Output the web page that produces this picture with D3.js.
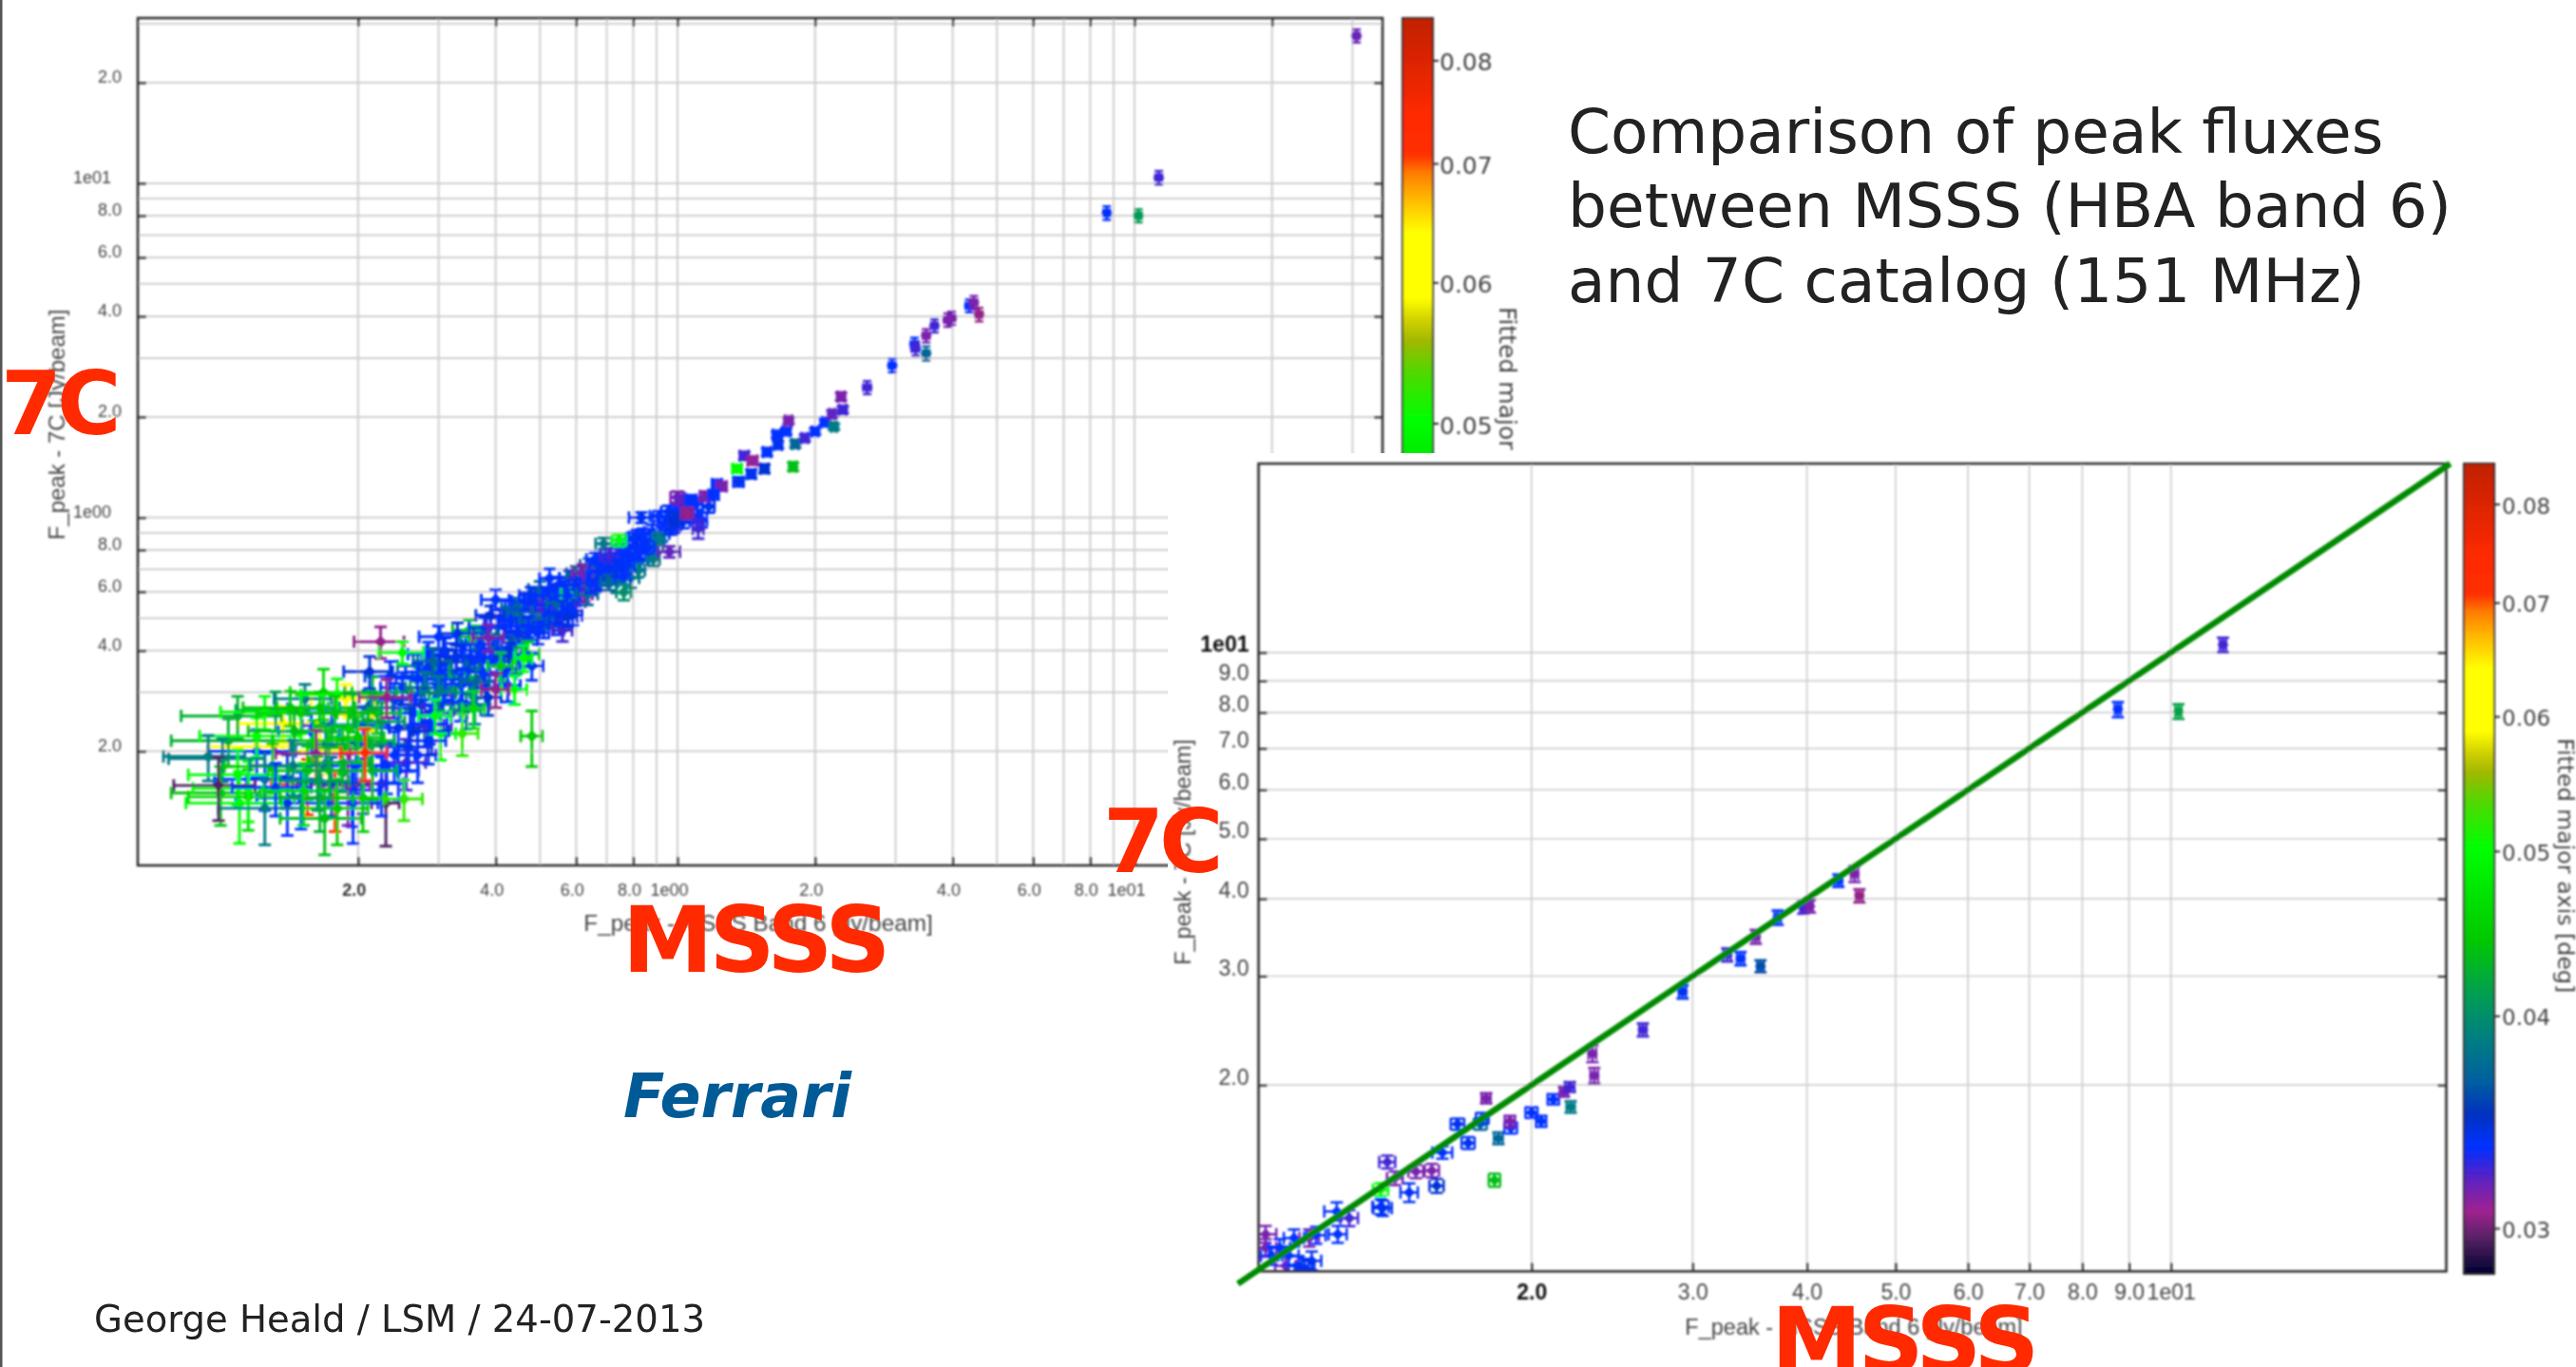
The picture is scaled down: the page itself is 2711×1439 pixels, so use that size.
<!DOCTYPE html>
<html><head><meta charset="utf-8">
<script src="https://cdn.jsdelivr.net/npm/d3@7/dist/d3.min.js"></script>
<style>html,body{margin:0;padding:0;background:#fff;overflow:hidden}svg{display:block}</style>
</head><body>
<svg id="c" width="2711" height="1439"></svg>
<script>
// --- values -----------------------------------------------------------
// rows: [MSSS Jy, 7C Jy, fitted major axis deg, x error Jy, y error Jy]
const yellowSources = [
 [.137,.242,.061,.028,.030],[.120,.206,.062,.026,.026],[.188,.287,.062,.030,.030],[.165,.200,.061,.028,.030],
 [.215,.260,.062,.028,.030],[.155,.159,.073,.026,.030],[.178,.145,.073,.024,.030]
];
const faintSources = [
 [.168,.268,.034,.028,.030],[.175,.239,.0325,.024,.032],[.158,.229,.0335,.024,.032],[.230,.140,.0295,.016,.036],
 [.240,.285,.0338,.028,.034],[.250,.310,.0338,.026,.034],[.260,.300,.041,.026,.036],
 [.270,.330,.0335,.028,.036],[.280,.310,.0385,.026,.034],[.235,.335,.0335,.028,.036],[.245,.235,.0335,.026,.034],
 [.265,.260,.0335,.026,.034],[.275,.275,.0345,.028,.034],[.225,.210,.037,.028,.034],
 [.240,.195,.0335,.026,.034],[.260,.235,.0345,.026,.034],[.280,.240,.0325,.028,.034],[.295,.285,.0335,.028,.034],
 [.300,.300,.0385,.026,.034],[.225,.160,.0335,.026,.032],[.245,.175,.0335,.026,.032],[.255,.185,.0325,.026,.032],
 [.270,.195,.0335,.026,.034],[.285,.215,.0338,.026,.032],[.290,.230,.0345,.026,.034],[.205,.160,.0325,.026,.030],
 [.205,.240,.0335,.028,.032],[.210,.270,.037,.028,.034],[.194,.153,.0335,.028,.034],[.258,.206,.0338,.026,.032],
 [.231,.181,.0335,.026,.032],[.198,.181,.0335,.030,.032],[.190,.158,.0315,.022,.038],[.287,.242,.0335,.026,.032],
 [.195,.140,.0335,.026,.034],[.140,.140,.0335,.032,.028],[.140,.165,.0345,.026,.030],[.125,.165,.0335,.028,.032],
 [.120,.200,.0335,.026,.032],[.150,.145,.0335,.030,.028],[.175,.160,.036,.028,.032],[.170,.210,.039,.028,.032],
 [.109,.255,.0425,.027,.037],[.132,.265,.0415,.024,.036],[.104,.215,.0425,.026,.035],[.120,.222,.050,.030,.030],
 [.094,.193,.0385,.019,.030],[.101,.190,.0385,.024,.028],[.109,.170,.050,.024,.032],[.100,.150,.044,.022,.030],
 [.110,.140,.050,.026,.034],[.115,.146,.046,.030,.030],[.153,.287,.0385,.022,.030],[.168,.300,.046,.026,.052],
 [.125,.262,.050,.025,.030],[.142,.270,.0445,.030,.032],[.150,.260,.046,.030,.034],[.165,.270,.0445,.032,.030],
 [.180,.295,.050,.030,.034],[.178,.260,.044,.033,.032],[.195,.262,.0435,.030,.034],[.220,.260,.0435,.028,.034],
 [.215,.300,.0425,.028,.034],[.190,.235,.045,.030,.034],[.225,.245,.041,.028,.034],[.210,.215,.0425,.030,.034],
 [.145,.230,.0435,.030,.032],[.160,.215,.045,.030,.032],[.185,.205,.0435,.030,.034],[.185,.185,.0425,.028,.034],
 [.215,.175,.0425,.028,.032],[.155,.175,.0445,.028,.032],[.130,.180,.0445,.028,.030],[.115,.155,.050,.028,.032],
 [.165,.145,.0425,.030,.030],[.180,.135,.0445,.030,.030],[.205,.145,.045,.026,.030],[.125,.135,.0385,.026,.030],
 [.099,.158,.0295,.020,.034],[.162,.197,.0305,.030,.034],[.200,.220,.0445,.028,.034],
 [.144,.181,.0385,.028,.034],[.132,.156,.0338,.026,.028],[.152,.152,.046,.028,.032],[.169,.126,.0435,.034,.028],
 [.252,.144,.052,.0245,.020],[.173,.175,.0425,.032,.030],[.163,.163,.041,.028,.030],
 [.295,.255,.050,.024,.030],[.212,.346,.0345,.026,.038],[.231,.290,.0305,.030,.038],[.250,.395,.050,.028,.030],
 [.207,.198,.073,.024,.035]
];
const midSources = [
 [.270,.360,.0385,.026,.034],[.285,.390,.0335,.028,.034],[.300,.350,.0338,.028,.034],[.295,.330,.0425,.028,.034],
 [.310,.400,.0335,.028,.036],[.315,.370,.0345,.028,.034],[.320,.340,.0335,.028,.034],[.310,.310,.0385,.026,.034],
 [.325,.300,.0435,.026,.034],[.335,.420,.0338,.028,.034],[.340,.385,.0335,.028,.034],[.345,.350,.0425,.028,.034],
 [.350,.330,.037,.026,.034],[.335,.280,.0335,.028,.034],[.355,.300,.0425,.028,.034],[.320,.260,.0325,.026,.034],
 [.345,.265,.0385,.026,.032],[.360,.440,.0435,.028,.034],[.365,.400,.0335,.028,.034],[.370,.370,.037,.026,.034],
 [.375,.345,.0335,.028,.034],[.380,.310,.0338,.028,.034],[.360,.275,.0385,.028,.034],[.385,.290,.0345,.026,.034],
 [.390,.440,.0415,.028,.034],[.350,.460,.0435,.028,.034],[.330,.450,.0345,.028,.034],[.300,.440,.0335,.028,.034],
 [.395,.400,.0335,.028,.034],[.410,.370,.037,.026,.034],[.415,.340,.0335,.028,.034],[.425,.315,.0338,.028,.034],
 [.430,.440,.0345,.028,.034],[.440,.410,.0335,.028,.034],[.445,.375,.0385,.028,.034],[.410,.500,.0325,.028,.034],
 [.420,.530,.0335,.028,.034],[.390,.510,.0345,.028,.034],[.440,.540,.037,.028,.034],[.455,.500,.0335,.028,.034],
 [.460,.460,.0325,.028,.034],[.465,.430,.037,.028,.034],[.470,.390,.0455,.028,.034],[.480,.360,.0338,.028,.034],
 [.480,.530,.0338,.028,.034],[.490,.490,.037,.028,.034],[.500,.560,.0335,.028,.034],[.505,.530,.0325,.028,.034],
 [.510,.470,.0338,.028,.034],[.525,.500,.037,.028,.034],[.530,.560,.0315,.028,.034],[.540,.520,.0335,.028,.034],
 [.550,.480,.0338,.028,.034],[.560,.460,.0325,.028,.034],[.555,.580,.0338,.028,.034],[.570,.540,.0335,.028,.034],
 [.580,.600,.0315,.028,.034],[.590,.510,.0335,.028,.034],[.600,.560,.0325,.028,.034],[.500,.610,.037,.028,.034],
 [.550,.630,.0335,.028,.034],[.580,.660,.0338,.028,.034],[.610,.640,.0315,.028,.034],[.630,.620,.0335,.028,.034],
 [.640,.720,.037,.028,.034],[.660,.750,.0335,.028,.034],[.620,.690,.0315,.028,.034],[.650,.620,.0335,.028,.034],
 [.680,.690,.0338,.028,.034],[.600,.680,.037,.028,.034],[.700,.660,.036,.028,.034],
 [.282,.345,.0335,.028,.036],[.292,.372,.037,.028,.034],[.305,.328,.0338,.028,.034],[.328,.382,.0345,.026,.034],
 [.338,.318,.0335,.028,.036],[.352,.382,.0338,.028,.034],[.362,.322,.037,.026,.034],[.372,.418,.0335,.028,.034],
 [.378,.468,.0338,.028,.034],[.388,.372,.0335,.028,.034],[.402,.442,.037,.026,.034],[.405,.398,.0338,.028,.034],
 [.418,.472,.0335,.028,.034],[.428,.388,.0345,.028,.034],[.432,.492,.0335,.028,.034],[.448,.452,.0338,.028,.034],
 [.452,.522,.037,.028,.034],[.462,.562,.0335,.028,.034],[.472,.472,.0335,.028,.034],[.478,.585,.0338,.028,.034],
 [.495,.452,.0335,.028,.034],[.515,.585,.0335,.028,.034],[.518,.545,.0338,.028,.034],[.535,.598,.0335,.028,.034],
 [.545,.555,.037,.028,.034],[.565,.612,.0338,.028,.034],[.575,.505,.0345,.028,.034],[.585,.562,.0338,.028,.034],
 [.595,.622,.0335,.028,.034],[.612,.595,.0345,.028,.034],[.625,.655,.0338,.028,.034],[.642,.668,.0335,.028,.034],
 [.655,.695,.037,.028,.034],[.672,.728,.0335,.028,.034],[.688,.742,.0338,.028,.034],[.695,.705,.0335,.028,.034],
 [.410,.360,.0445,.026,.034],[.358,.268,.046,.020,.034],[.338,.226,.052,.028,.032],[.303,.226,.050,.024,.038],
 [.480,.222,.0445,.026,.042],[.440,.306,.050,.028,.030],[.400,.306,.0305,.028,.036],[.460,.380,.050,.020,.034],
 [.224,.425,.0305,.028,.046],[.386,.437,.0315,.030,.040],[.400,.568,.0335,.028,.040],[.525,.658,.0335,.026,.044],
 [.625,.590,.0315,.026,.030],[.580,.590,.046,.024,.024],[.620,.680,.0315,.030,.034]
];
const blockSources = [
 [.560,.520,.0338,.034,.044],[.575,.585,.0335,.034,.046],[.600,.610,.0338,.034,.044],[.635,.590,.037,.034,.042],
 [.645,.640,.0335,.034,.044],[.668,.650,.0338,.034,.044],[.675,.690,.0335,.034,.046],[.695,.760,.0335,.034,.046],
 [.705,.685,.0338,.034,.044],[.725,.735,.0335,.034,.046],[.735,.640,.037,.034,.044],[.748,.785,.0335,.034,.044],
 [.752,.700,.0338,.034,.046],[.770,.820,.0335,.034,.044],[.785,.760,.0335,.034,.046],[.790,.660,.0385,.034,.044],
 [.805,.820,.0338,.034,.046],[.815,.875,.0335,.034,.044],[.830,.745,.0335,.034,.046],[.850,.855,.0338,.034,.046],
 [.865,.790,.0335,.034,.044],[.880,.905,.0335,.034,.046],[.895,.830,.037,.034,.046],[.925,.895,.0335,.034,.046],
 [.940,.960,.0335,.034,.046],[.955,1.04,.0338,.034,.044],[.985,.950,.0325,.034,.046],[1.00,1.06,.0335,.034,.046],
 [1.03,.975,.0335,.034,.046],[1.05,1.09,.0325,.034,.046],[1.08,1.01,.0338,.034,.046],[1.10,1.10,.0335,.034,.046],
 [1.17,1.08,.0338,.034,.046],[1.00,1.15,.0315,.034,.046]
];
const brightSources = [
 [.710,.640,.037,.030,.034],[.690,.835,.0385,.028,.034],[.710,.770,.0325,.030,.036],[.760,.750,.0335,.030,.036],
 [.760,.665,.0335,.030,.036],[.763,.598,.040,.028,.032],[.820,.785,.0335,.030,.036],[.820,.695,.0385,.028,.032],
 [.885,.750,.0385,.028,.034],[.800,.865,.0338,.030,.036],[.840,.890,.0335,.030,.036],[.910,.865,.0385,.028,.036],
 [.745,.855,.050,.026,.034],[.775,.715,.0335,.030,.036],[.735,.705,.0338,.030,.036],[.860,.815,.0335,.030,.036],
 [.960,.790,.032,.052,.030],[.833,1.00,.0338,.050,.036],[.910,1.01,.0335,.040,.036],
 [.970,.925,.0338,.030,.036],[.995,.990,.0345,.032,.040],[1.02,1.13,.032,.030,.040],[1.07,1.13,.0335,.030,.036],
 [1.15,1.16,.0315,.030,.036],[1.05,1.03,.0305,.030,.036],[1.13,.985,.0335,.030,.050],[1.11,.925,.0325,.030,.060],
 [1.22,1.26,.0335,.030,.036],[1.25,1.24,.0315,.030,.036],[1.20,1.17,.0335,.030,.036],[1.36,1.28,.0338,.034,.040],
 [1.40,1.53,.0325,.030,.040],[1.35,1.40,.050,.030,.034],[1.46,1.48,.031,.034,.040],[1.45,1.35,.0338,.030,.040],
 [1.55,1.40,.0345,.030,.040],[1.57,1.57,.0335,.030,.040],[1.79,1.42,.0435,.030,.040],[1.65,1.77,.0335,.030,.040],
 [1.66,1.65,.0338,.030,.040],[1.73,1.81,.0335,.030,.040],[1.81,1.66,.037,.030,.040],[1.90,1.73,.0325,.030,.040],
 [2.00,1.81,.0335,.030,.040],[2.10,1.93,.0335,.030,.040],[2.20,1.87,.0385,.030,.040],[1.75,1.95,.0315,.030,.040],
 [2.18,2.04,.032,.030,.050],[2.28,2.30,.0315,.040,.060],[2.30,2.10,.0325,.040,.050]
];
const peakSources = [
 [2.60,2.45,.0325,.050,.110],
 [2.95,2.85,.0335,.050,.130],[3.30,3.30,.0335,.060,.150],[3.32,3.20,.0325,.060,.150],[3.50,3.10,.037,.060,.150],
 [3.50,3.50,.0315,.060,.160],[3.65,3.75,.0325,.060,.170],[3.90,3.90,.0315,.070,.180],[3.98,3.95,.0315,.070,.180],
 [4.35,4.30,.0335,.080,.190],[4.45,4.40,.0315,.080,.200],[4.57,4.05,.0305,.080,.190],[8.70,8.15,.0335,.150,.380],
 [10.2,8.00,.041,.170,.360],[11.3,10.4,.0325,.190,.480],[30.6,27.6,.0318,.500,1.25]
];
// matched sources in the second panel: [MSSS Jy, 7C Jy, fitted major axis deg, x error Jy, y error Jy]
const matchedSources = [
 [1.024,1.148,.0315,.028,.036],[1.024,1.092,.0315,.028,.036],[1.061,1.092,.0335,.028,.036],[1.100,1.132,.0335,.028,.036],
 [1.143,1.132,.0315,.028,.036],[1.163,1.144,.0335,.028,.036],[1.077,1.021,.0315,.028,.036],[1.113,1.021,.0338,.028,.036],
 [1.130,1.011,.0338,.028,.036],[1.040,1.060,.0335,.028,.036],[1.085,1.060,.0335,.028,.036],[1.150,1.040,.0338,.028,.036],
 [1.225,1.250,.0335,.038,.042],[1.264,1.219,.0325,.028,.036],[1.228,1.148,.0335,.028,.036],
 [1.368,1.272,.0335,.028,.036],[1.368,1.356,.050,.026,.032],[1.391,1.502,.0325,.028,.036],[1.418,1.414,.0315,.028,.036],
 [1.470,1.341,.0338,.032,.046],[1.495,1.450,.0315,.028,.036],[1.375,1.265,.0338,.032,.036],[1.556,1.455,.0315,.028,.036],
 [1.575,1.375,.0345,.028,.036],[1.598,1.556,.0335,.040,.036],[1.660,1.730,.0338,.028,.036],[1.705,1.612,.0338,.028,.036],
 [1.758,1.730,.037,.028,.036],[1.767,1.767,.0338,.028,.036],[1.784,1.904,.0315,.020,.036],[1.840,1.641,.037,.020,.036],
 [1.822,1.404,.0435,.026,.034],[1.898,1.706,.0335,.030,.036],[1.894,1.748,.0315,.024,.036],[2.000,1.805,.0335,.030,.036],
 [2.049,1.748,.0335,.026,.036],[2.113,1.897,.0335,.030,.036],[2.170,1.951,.0315,.022,.036],[2.202,1.986,.0325,.026,.036],
 [2.207,1.844,.0385,.022,.040],[2.331,2.248,.0315,.022,.070],[2.342,2.072,.0315,.022,.060],[2.647,2.456,.0325,.024,.060],
 [2.925,2.829,.0338,.026,.070],[3.273,3.247,.0325,.030,.080],[3.385,3.202,.0335,.030,.080],[3.559,3.112,.036,.030,.070],
 [3.517,3.473,.0315,.030,.090],[3.716,3.730,.0335,.030,.100],[3.963,3.874,.0325,.030,.090],[4.030,3.890,.0315,.030,.090],
 [4.330,4.280,.0335,.040,.100],[4.510,4.387,.0315,.040,.130],[4.565,4.045,.0305,.040,.100],[8.750,8.090,.0335,.070,.230],
 [10.19,8.030,.0415,.080,.220],[11.40,10.29,.0325,.090,.280]
];
const unityLine = [.955,20.2];

const leftXGrid = [.2,.3,.4,.5,.6,.7,.8,.9,1,2,3,4,5,6,7,8,9,10,20,30];
const leftYGrid = [.2,.3,.4,.5,.6,.7,.8,.9,1,2,3,4,5,6,7,8,9,10,20,30];
const leftXTicks = [.2,.4,.6,.8,1,2,4,6,8,10,20];
const leftYTicks = [.2,.4,.6,.8,1,2,4,6,8,10,20];
const rightGrid = [2,3,4,5,6,7,8,9,10];
const barTicks = [.03,.04,.05,.06,.07,.08];
const barStopValues = [.0845,.0745,.0708,.0692,.0672,.064,.0588,.0571,.0556,.0534,.0502,.0443,.0413,.0389,.0366,.035,.0335,.032,.0307,.0295,.0282];
const barStopColors = ["#c02000","#ff2a00","#ff3000","#ff7a00","#ffb000","#ffff00","#ffff00","#d0d000","#a0b800","#50d800","#00ff00","#00c800","#00a050","#008080","#0060a0","#0030c0","#0030ff","#6020c0","#a02090","#502060","#000030"];
const leftXTitle = "F_peak - MSSS Band 6 [Jy/beam]";
const leftYTitle = "F_peak - 7C [Jy/beam]";
const barTitle = "Fitted major axis [deg]";
const headline = ["Comparison of peak fluxes","between MSSS (HBA band 6)","and 7C catalog (151 MHz)"];

// --- scales -----------------------------------------------------------
const svg = d3.select("#c");
const defs = svg.append("defs");
defs.append("filter").attr("id","soft").attr("x","-5%").attr("y","-5%").attr("width","110%").attr("height","110%")
  .append("feGaussianBlur").attr("stdDeviation",0.85);
const color = d3.scaleLog().domain(barStopValues).range(barStopColors).clamp(true);
const lx = d3.scaleLog().domain([.0659,34.9]).range([145,1455]);
const ly = d3.scaleLog().domain([.0911,31.2]).range([911,19]);
const rx = d3.scaleLog().domain([1.006,20]).range([1324.5,2574.5]);
const ry = d3.scaleLog().domain([1,20.2]).range([1338.3,488]);
const lbar = d3.scaleLog().domain([.0282,.0845]).range([911,19]);
const rbar = d3.scaleLog().domain([.0282,.0845]).range([1341,488]);
const fmt = v => v===10?"1e01":v===1?"1e00":(v<1?v*10:v>=20?v/10:v).toFixed(1);
const GRID="#cfcfcf", FRAME="#2a2a2a", LABEL="#444";

function gridLines(g,xs,ys,x,y,w){
  g.append("g").selectAll("line").data(xs).join("line")
   .attr("x1",d=>x(d)).attr("x2",d=>x(d)).attr("y1",y.range()[0]).attr("y2",y.range()[1])
   .attr("stroke",GRID).attr("stroke-width",w);
  g.append("g").selectAll("line").data(ys).join("line")
   .attr("y1",d=>y(d)).attr("y2",d=>y(d)).attr("x1",x.range()[0]).attr("x2",x.range()[1])
   .attr("stroke",GRID).attr("stroke-width",w);
}
function marks(g,rows,x,y,o){
  const item = g.append("g").selectAll("g").data(rows).join("g")
    .attr("stroke",d=>color(d[2])).attr("fill",d=>color(d[2])).attr("stroke-width",o.lw);
  const xe=d=>d[3], ye=d=>d[4];
  item.append("line").attr("x1",d=>x(d[0]-xe(d))).attr("x2",d=>x(d[0]+xe(d))).attr("y1",d=>y(d[1])).attr("y2",d=>y(d[1]));
  item.append("line").attr("x1",d=>x(d[0])).attr("x2",d=>x(d[0])).attr("y1",d=>y(d[1]-ye(d))).attr("y2",d=>y(d[1]+ye(d)));
  for(const s of [-1,1]){
    item.append("line").attr("x1",d=>x(d[0]+s*xe(d))).attr("x2",d=>x(d[0]+s*xe(d))).attr("y1",d=>y(d[1])-o.cap).attr("y2",d=>y(d[1])+o.cap);
    item.append("line").attr("y1",d=>y(d[1]+s*ye(d))).attr("y2",d=>y(d[1]+s*ye(d))).attr("x1",d=>x(d[0])-o.cap).attr("x2",d=>x(d[0])+o.cap);
  }
  item.append("path").attr("stroke","none").attr("d",d3.symbol().type(d3.symbolSquare).size(o.size))
    .attr("transform",d=>`translate(${x(d[0])},${y(d[1])}) rotate(45)`);
}
function styleAxis(a,fs,dx,dy){
  a.select(".domain").remove();
  a.selectAll("line").attr("stroke",FRAME).attr("stroke-width",2.2);
  a.selectAll("text").attr("font-family","'Liberation Sans',sans-serif").attr("font-size",fs).attr("fill",LABEL)
   .attr("transform",d=>`translate(${dx(d)},${dy(d)})`);
}
function colorBar(g,scale,x0,w,id,fs,padText,title,tx,ty0,tfs){
  const gr=defs.append("linearGradient").attr("id",id).attr("x1",0).attr("x2",0).attr("y1",0).attr("y2",1);
  gr.selectAll("stop").data(barStopValues).join("stop")
    .attr("offset",d=>(scale(d)-scale.range()[1])/(scale.range()[0]-scale.range()[1]))
    .attr("stop-color",d=>color(d));
  g.append("rect").attr("x",x0).attr("y",scale.range()[1]).attr("width",w).attr("height",scale.range()[0]-scale.range()[1])
    .attr("fill",`url(#${id})`).attr("stroke",FRAME).attr("stroke-width",2);
  const a=g.append("g").attr("transform",`translate(${x0+w},0)`)
    .call(d3.axisRight(scale).tickValues(barTicks).tickFormat(d3.format(".2f")).tickSize(6).tickPadding(padText));
  a.select(".domain").remove();
  a.selectAll("line").attr("stroke",FRAME).attr("stroke-width",2);
  a.selectAll("text").attr("font-family","'DejaVu Sans',sans-serif").attr("font-size",fs).attr("fill",LABEL).attr("dy","0.42em");
  g.append("text").text(title).attr("transform",`translate(${tx},${ty0}) rotate(90)`)
    .attr("font-family","'DejaVu Sans',sans-serif").attr("font-size",tfs).attr("fill",LABEL);
}

// --- left panel -------------------------------------------------------
const L = svg.append("g").attr("filter","url(#soft)");
gridLines(L,leftXGrid,leftYGrid,lx,ly,2);
const lFrame=[145,19,1310,892];
L.append("rect").attr("x",lFrame[0]).attr("y",lFrame[1]).attr("width",lFrame[2]).attr("height",lFrame[3])
  .attr("fill","none").attr("stroke",FRAME).attr("stroke-width",2.5);
const a1=L.append("g").attr("transform","translate(0,911)").call(d3.axisBottom(lx).tickValues(leftXTicks).tickFormat(fmt).tickSize(-9).tickPadding(19));
styleAxis(a1,18,d=>d===1||d===10?-9:-4.5,()=>0);
a1.selectAll("text").filter(d=>d===.2).attr("font-weight","bold").attr("fill","#333");
const a2=L.append("g").attr("transform","translate(145,0)").call(d3.axisLeft(ly).tickValues(leftYTicks).tickFormat(fmt).tickSize(-9).tickPadding(17));
styleAxis(a2,18,d=>d===1||d===10?-11:0,()=>-6.5);
const a3=L.append("g").attr("transform","translate(0,19)").call(d3.axisTop(lx).tickValues(leftXTicks).tickFormat("").tickSize(-9));
styleAxis(a3,1,()=>0,()=>0);
const a4=L.append("g").attr("transform","translate(1455,0)").call(d3.axisRight(ly).tickValues(leftYTicks).tickFormat("").tickSize(-9));
styleAxis(a4,1,()=>0,()=>0);
const lOpt={lw:2.9,cap:6.5,size:82};
marks(L,yellowSources,lx,ly,lOpt);
marks(L,midSources,lx,ly,lOpt);
marks(L,faintSources,lx,ly,lOpt);
marks(L,blockSources,lx,ly,lOpt);
marks(L,brightSources,lx,ly,lOpt);
marks(L,peakSources,lx,ly,{lw:2.4,cap:4.5,size:76});
L.append("text").text(leftXTitle).attr("x",798).attr("y",980).attr("text-anchor","middle")
  .attr("font-family","'Liberation Sans',sans-serif").attr("font-size",24.3).attr("fill",LABEL);
L.append("text").text(leftYTitle).attr("transform","translate(68,447) rotate(-90)").attr("text-anchor","middle")
  .attr("font-family","'Liberation Sans',sans-serif").attr("font-size",24).attr("fill",LABEL);
colorBar(L,lbar,1476,32,"barL",25,1,barTitle,1578,323,25);

// second panel sits on a white sheet that hides part of the first one
svg.append("rect").attr("x",1229).attr("y",477).attr("width",1482).attr("height",962).attr("fill","#fff");

// --- right panel ------------------------------------------------------
const R = svg.append("g").attr("filter","url(#soft)");
gridLines(R,rightGrid,rightGrid,rx,ry,1.7);
defs.append("clipPath").attr("id","rclip").append("rect").attr("x",1324.5).attr("y",488).attr("width",1250).attr("height",850.3);
marks(R.append("g").attr("clip-path","url(#rclip)"),matchedSources,rx,ry,{lw:2.5,cap:6.5,size:72});
R.append("rect").attr("x",1324.5).attr("y",488).attr("width",1250).attr("height",850.3)
  .attr("fill","none").attr("stroke",FRAME).attr("stroke-width",2.5);
const b1=R.append("g").attr("transform","translate(0,1338.3)").call(d3.axisBottom(rx).tickValues(rightGrid).tickFormat(fmt).tickSize(-9).tickPadding(13));
styleAxis(b1,23,()=>0,()=>0);
const b2=R.append("g").attr("transform","translate(1324.5,0)").call(d3.axisLeft(ry).tickValues(rightGrid).tickFormat(fmt).tickSize(-9).tickPadding(10));
styleAxis(b2,23,()=>0,()=>-8.5);
b2.selectAll("text").filter(d=>d===10).attr("fill","#111").attr("font-weight","bold");
b1.selectAll("text").filter(d=>d===2).attr("fill","#111").attr("font-weight","bold");
const b3=R.append("g").attr("transform","translate(2574.5,0)").call(d3.axisRight(ry).tickValues(rightGrid).tickFormat("").tickSize(-9));
styleAxis(b3,1,()=>0,()=>0);
R.append("line").attr("x1",rx(unityLine[0])).attr("y1",ry(unityLine[0])).attr("x2",rx(unityLine[1])).attr("y2",ry(unityLine[1]))
  .attr("stroke","#008a00").attr("stroke-width",6.5);
R.append("text").text(leftXTitle).attr("x",1951).attr("y",1405).attr("text-anchor","middle")
  .attr("font-family","'Liberation Sans',sans-serif").attr("font-size",23.5).attr("fill",LABEL);
R.append("text").text(leftYTitle).attr("transform","translate(1253,897) rotate(-90)").attr("text-anchor","middle")
  .attr("font-family","'Liberation Sans',sans-serif").attr("font-size",23.5).attr("fill",LABEL);
colorBar(R,rbar,2593,32,"barR",23,2,barTitle,2692,777,23.7);

// --- slide annotations ------------------------------------------------
svg.append("rect").attr("x",0).attr("y",0).attr("width",2.5).attr("height",1439).attr("fill","#555");
svg.append("g").selectAll("text").data(headline).join("text").text(d=>d)
  .attr("x",1650).attr("y",(d,i)=>[161,239,318][i])
  .attr("font-family","'DejaVu Sans',sans-serif").attr("font-size",64.5).attr("fill","#222");
svg.append("text").text("George Heald / LSM / 24-07-2013").attr("x",99).attr("y",1402)
  .attr("font-family","'DejaVu Sans',sans-serif").attr("font-size",38.6).attr("fill","#222");
svg.append("text").text("Ferrari").attr("x",656).attr("y",1176)
  .attr("font-family","'DejaVu Sans',sans-serif").attr("font-size",63.5).attr("font-weight","bold").attr("font-style","italic").attr("fill","#005a96");
const red=[["7C",1,457,-5],["7C",1161,918,-5],["MSSS",655,1023,-4],["MSSS",1864,1445,-4]];
svg.append("g").selectAll("text").data(red).join("text").text(d=>d[0])
  .attr("x",d=>d[1]).attr("y",d=>d[2]).attr("letter-spacing",d=>d[3])
  .attr("font-family","'DejaVu Sans',sans-serif").attr("font-weight","bold").attr("font-size",d=>d[0]==="7C"?92:96).attr("fill","#ff2a00");
</script>
</body></html>
